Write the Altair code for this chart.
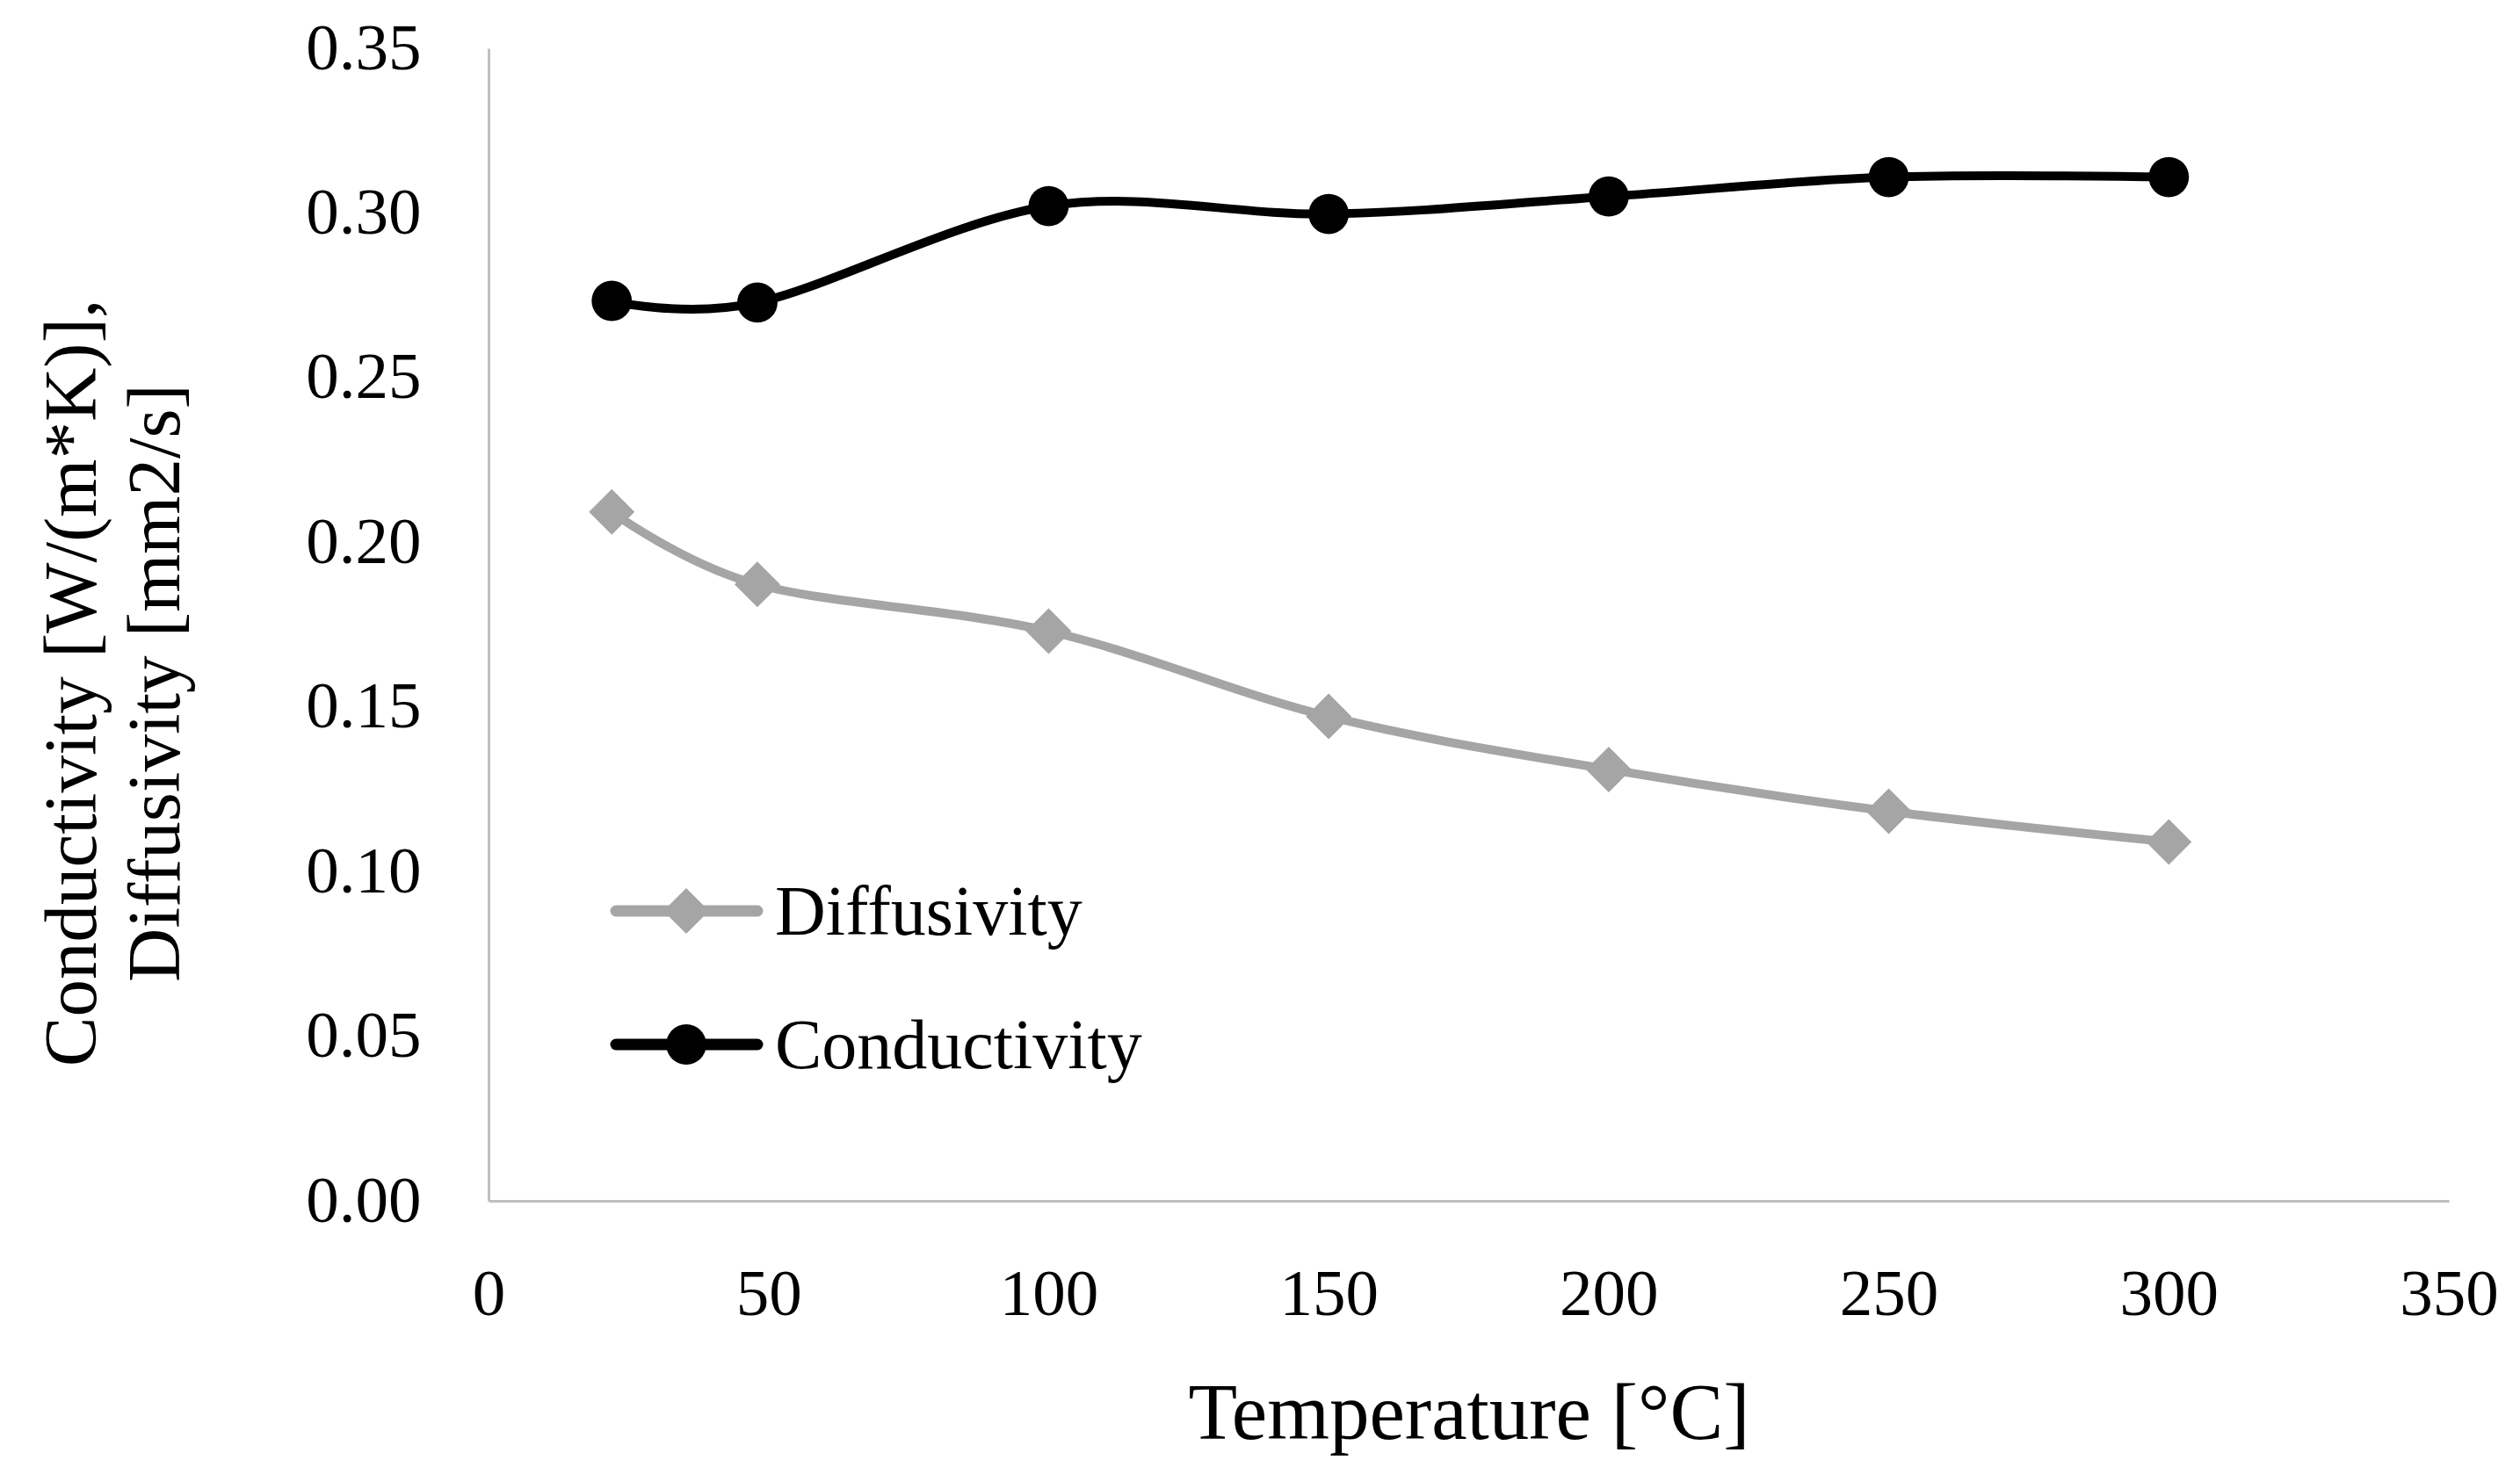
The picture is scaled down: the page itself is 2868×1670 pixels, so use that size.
import altair as alt
import pandas as pd

temperature = [22, 48, 100, 150, 200, 250, 300]
diffusivity = [0.2092, 0.1872, 0.1730, 0.1471, 0.1310, 0.1183, 0.1090]
conductivity = [0.2733, 0.2728, 0.3021, 0.2997, 0.3050, 0.3109, 0.3109]
series_names = ["Diffusivity", "Conductivity"]
series_colors = ["#A5A5A5", "#000000"]
series_shapes = ["diamond", "circle"]
x_ticks = [0, 50, 100, 150, 200, 250, 300, 350]
y_ticks = [0.0, 0.05, 0.10, 0.15, 0.20, 0.25, 0.30, 0.35]

rows = []
for t, d in zip(temperature, diffusivity):
    rows.append({"T": t, "v": d, "series": "Diffusivity"})
for t, c in zip(temperature, conductivity):
    rows.append({"T": t, "v": c, "series": "Conductivity"})
df = pd.DataFrame(rows)

FONT = "Liberation Serif"
MARKER_SIZE = {"diamond": 2700, "circle": 2100}

xenc = alt.X("T:Q", scale=alt.Scale(domain=[0, 350], nice=False),
             axis=alt.Axis(values=x_ticks, title="Temperature [°C]", grid=False,
                           ticks=False, tickSize=0, labelPadding=70,
                           labelFontSize=75, titleFontSize=91,
                           titleFontWeight="normal", titleBaseline="middle",
                           titleY=243, labelFlush=False))
yenc = alt.Y("v:Q", scale=alt.Scale(domain=[0, 0.35], nice=False),
             axis=alt.Axis(values=y_ticks, format=".2f",
                           title=["Conductivity [W/(m*K)],", "Diffusivity [mm2/s]"],
                           grid=False, ticks=False, tickSize=0, labelPadding=77,
                           labelFontSize=75, titleFontSize=85,
                           titleFontWeight="normal", titleLineHeight=95,
                           titleBaseline="middle", titleAlign="center",
                           titleX=-474, titleY=722, labelFlush=False))

cscale = alt.Scale(domain=series_names, range=series_colors)

lines = alt.Chart(df).mark_line(interpolate="cardinal", strokeWidth=10).encode(
    x=xenc, y=yenc,
    color=alt.Color("series:N", scale=cscale, legend=None),
    detail="series:N",
)

layers = [lines]
for name, shape in zip(series_names, series_shapes):
    layers.append(
        alt.Chart(df).transform_filter(alt.datum.series == name).mark_point(
            shape=shape, filled=True, size=MARKER_SIZE[shape], opacity=1
        ).encode(x=xenc, y=yenc,
                 color=alt.Color("series:N", scale=cscale, legend=None))
    )

# legend drawn inside the plot area (pixel positions within the view)
for i, (name, color, shape) in enumerate(zip(series_names, series_colors, series_shapes)):
    ldf = pd.DataFrame({"series": [name]})
    yy = 982 + 152 * i
    layers.append(
        alt.Chart(ldf).mark_rule(strokeWidth=13, strokeCap="round", color=color).encode(
            x=alt.value(145), x2=alt.value(306), y=alt.value(yy))
    )
    layers.append(
        alt.Chart(ldf).mark_point(shape=shape, filled=True, opacity=1,
                                  size=MARKER_SIZE[shape], color=color).encode(
            x=alt.value(225), y=alt.value(yy))
    )
    layers.append(
        alt.Chart(ldf).mark_text(align="left", baseline="middle", font=FONT,
                                 fontSize=80, color="#000000", dy=3).encode(
            x=alt.value(326), y=alt.value(yy), text=alt.Text("series:N"))
    )

chart = alt.layer(*layers).properties(
    width=2231, height=1312,
    autosize=alt.AutoSizeParams(type="none"),
    padding={"left": 548, "top": 47, "right": 60, "bottom": 290},
    background="white",
).configure_view(stroke=None).configure_axis(
    domainColor="#BFBFBF", domainWidth=3, labelFont=FONT, titleFont=FONT,
    labelColor="#000000", titleColor="#000000",
)

chart.save("out.html", embed_options={"renderer": "svg", "actions": False})
